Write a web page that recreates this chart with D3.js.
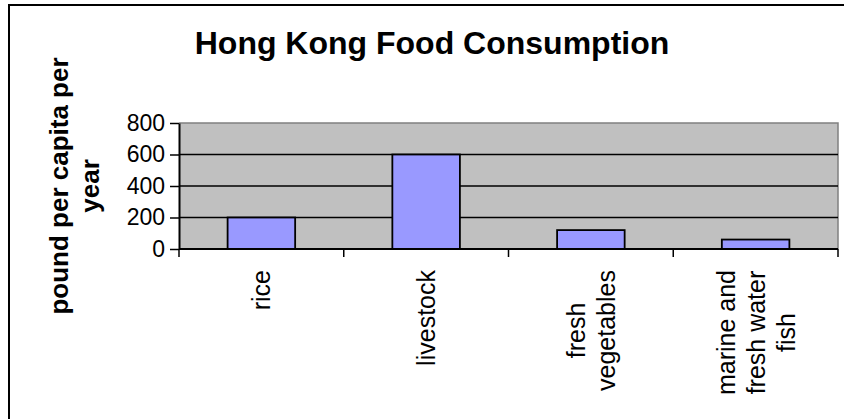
<!DOCTYPE html>
<html>
<head>
<meta charset="utf-8">
<script src="https://cdn.jsdelivr.net/npm/d3@7/dist/d3.min.js"></script>
<style>
  html, body { margin: 0; padding: 0; background: #fff; }
  svg { display: block; font-family: "Liberation Sans", Arial, sans-serif; }
</style>
</head>
<body>
<svg id="chart" width="844" height="419"></svg>
<script>
// Food consumption in Hong Kong, pounds per capita per year
const categories = ["rice", "livestock", "fresh vegetables", "marine and fresh water fish"];
const categoryLines = [["rice"], ["livestock"], ["fresh", "vegetables"], ["marine and", "fresh water", "fish"]];
const values = [200, 600, 120, 60];
const yTicks = [0, 200, 400, 600, 800];
const titleText = "Hong Kong Food Consumption";
const yTitleLines = ["pound per capita per", "year"];

const svg = d3.select("#chart");

// outer chart frame
svg.append("rect")
  .attr("x", 9).attr("y", 5)
  .attr("width", 860).attr("height", 430)
  .attr("fill", "#fff").attr("stroke", "#000").attr("stroke-width", 2);

const plot = { left: 179, right: 838, top: 123, bottom: 249 };

const x = d3.scaleBand()
  .domain(categories)
  .range([plot.left, plot.right])
  .paddingInner(0.59)
  .paddingOuter(0.295);

const xOuter = d3.scaleBand()
  .domain(categories)
  .range([plot.left, plot.right])
  .padding(0);

const y = d3.scaleLinear()
  .domain([0, 800])
  .range([plot.bottom, plot.top]);

// plot background
svg.append("rect")
  .attr("x", plot.left).attr("y", plot.top)
  .attr("width", plot.right - plot.left)
  .attr("height", plot.bottom - plot.top)
  .attr("fill", "#C0C0C0");

// top and right plot border
svg.append("path")
  .attr("d", `M${plot.left},${plot.top}H${plot.right}V${plot.bottom}`)
  .attr("fill", "none").attr("stroke", "#808080").attr("stroke-width", 1.5);

// horizontal gridlines
svg.append("g")
  .selectAll("line")
  .data(yTicks.filter(d => d > 0 && d < 800))
  .join("line")
  .attr("x1", plot.left).attr("x2", plot.right)
  .attr("y1", d => y(d)).attr("y2", d => y(d))
  .attr("stroke", "#000").attr("stroke-width", 1.6);

// bars
svg.append("g")
  .selectAll("rect")
  .data(values)
  .join("rect")
  .attr("x", (d, i) => x(categories[i]))
  .attr("width", x.bandwidth())
  .attr("y", d => y(d))
  .attr("height", d => y(0) - y(d))
  .attr("fill", "#9999FF")
  .attr("stroke", "#000")
  .attr("stroke-width", 1.8);

// y axis
const yAxis = d3.axisLeft(y).tickValues(yTicks).tickSize(9).tickPadding(5).tickSizeOuter(0);
const gy = svg.append("g")
  .attr("transform", `translate(${plot.left},0)`)
  .call(yAxis);
gy.select(".domain").attr("stroke", "#000").attr("stroke-width", 2);
gy.selectAll(".tick line").attr("stroke", "#000").attr("stroke-width", 1.5);
gy.selectAll(".tick text")
  .attr("font-size", 23).attr("fill", "#000")
  .attr("font-family", "Liberation Sans, Arial, sans-serif");

// x axis baseline with ticks at category boundaries
const boundaries = categories.map(c => xOuter(c)).concat([plot.right]);
svg.append("line")
  .attr("x1", plot.left).attr("x2", plot.right)
  .attr("y1", plot.bottom).attr("y2", plot.bottom)
  .attr("stroke", "#000").attr("stroke-width", 2);
svg.append("g")
  .selectAll("line")
  .data(boundaries)
  .join("line")
  .attr("x1", d => d).attr("x2", d => d)
  .attr("y1", plot.bottom).attr("y2", plot.bottom + 8)
  .attr("stroke", "#000").attr("stroke-width", 1.5);

// category labels, rotated, lines centred within each block
const labelTop = 270;
const lineGap = 30;
categoryLines.forEach((lines, i) => {
  const cx = xOuter(categories[i]) + xOuter.bandwidth() / 2;
  const g = svg.append("g");
  const texts = lines.map((ln, j) => g.append("text")
    .attr("font-size", 25)
    .attr("fill", "#000")
    .attr("text-anchor", "middle")
    .text(ln));
  const blockLen = d3.max(texts, t => t.node().getComputedTextLength());
  const n = lines.length;
  texts.forEach((t, j) => {
    const lx = cx + (j - (n - 1) / 2) * lineGap + 9;
    t.attr("transform", `translate(${lx},${labelTop + blockLen / 2}) rotate(-90)`);
  });
});

// chart title
svg.append("text")
  .attr("x", 432).attr("y", 54)
  .attr("text-anchor", "middle")
  .attr("font-size", 32)
  .attr("font-weight", "bold")
  .attr("fill", "#000")
  .text(titleText);

// y axis title
const yMid = (plot.top + plot.bottom) / 2;
yTitleLines.forEach((ln, j) => {
  svg.append("text")
    .attr("transform", `translate(${68 + j * 31},${yMid}) rotate(-90)`)
    .attr("text-anchor", "middle")
    .attr("font-size", 26)
    .attr("font-weight", "bold")
    .attr("fill", "#000")
    .text(ln);
});
</script>
</body>
</html>
